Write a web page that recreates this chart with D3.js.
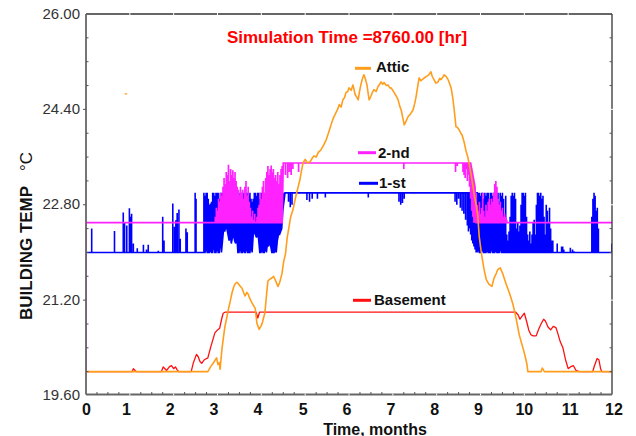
<!DOCTYPE html>
<html><head><meta charset="utf-8">
<script src="https://cdn.jsdelivr.net/npm/d3@7"></script>
<style>body{margin:0;background:#fff}svg{display:block}</style>
</head><body><svg id="c" width="636" height="436"></svg>
<script>
// ---------------- DATA ----------------
const monthTicks = [0,1,2,3,4,5,6,7,8,9,10,11,12];
const tempTicks = [19.6, 21.2, 22.8, 24.4, 26.0];
const tempTickLabels = ["19.60","21.20","22.80","24.40","26.00"];
const titleText = "Simulation Time =8760.00 [hr]";
const xLabel = "Time, months";
const yLabel = "BUILDING TEMP";
const yUnit = "°C";
const seriesNames = ["Attic", "2-nd", "1-st", "Basement"];

// Attic [month, temp]
const attic = [[0,20],[2.78,20],[2.84,20.08],[2.9,20.14],[2.95,20.2],[2.98,20.23],[3.01,20.12],[3.04,20.15],[3.06,20.04],[3.1,20.37],[3.14,20.6],[3.17,20.76],[3.21,20.9],[3.25,21.05],[3.29,21.18],[3.33,21.32],[3.37,21.42],[3.4,21.47],[3.44,21.5],[3.47,21.48],[3.51,21.44],[3.56,21.4],[3.6,21.32],[3.63,21.27],[3.67,21.33],[3.7,21.3],[3.74,21.22],[3.79,21.15],[3.83,21.1],[3.86,21.06],[3.9,20.81],[3.95,20.71],[3.99,20.76],[4.02,20.81],[4.05,20.9],[4.08,20.98],[4.12,21.3],[4.15,21.52],[4.19,21.55],[4.24,21.57],[4.28,21.6],[4.31,21.55],[4.35,21.48],[4.38,21.43],[4.42,21.5],[4.47,21.64],[4.51,21.85],[4.55,21.97],[4.59,22.25],[4.63,22.42],[4.67,22.6],[4.72,22.71],[4.76,22.85],[4.79,22.95],[4.84,23.1],[4.88,23.22],[4.92,23.38],[4.95,23.5],[5.0,23.56],[5.05,23.5],[5.11,23.52],[5.16,23.58],[5.2,23.62],[5.25,23.6],[5.3,23.68],[5.36,23.72],[5.42,23.8],[5.48,23.89],[5.53,24.0],[5.59,24.14],[5.64,24.25],[5.7,24.34],[5.74,24.4],[5.78,24.48],[5.82,24.44],[5.86,24.56],[5.9,24.6],[5.93,24.68],[5.97,24.7],[6.0,24.76],[6.05,24.72],[6.09,24.81],[6.12,24.72],[6.14,24.65],[6.18,24.6],[6.21,24.56],[6.24,24.7],[6.27,24.81],[6.3,24.9],[6.34,24.98],[6.37,24.92],[6.41,24.81],[6.44,24.65],[6.46,24.56],[6.5,24.62],[6.53,24.68],[6.57,24.73],[6.62,24.7],[6.66,24.78],[6.7,24.82],[6.73,24.86],[6.77,24.82],[6.8,24.85],[6.85,24.8],[6.89,24.81],[6.93,24.76],[6.96,24.76],[7.0,24.72],[7.03,24.68],[7.08,24.62],[7.12,24.56],[7.16,24.45],[7.19,24.39],[7.23,24.25],[7.26,24.14],[7.3,24.2],[7.35,24.28],[7.4,24.32],[7.46,24.39],[7.5,24.5],[7.53,24.61],[7.57,24.8],[7.6,24.93],[7.64,24.88],[7.67,24.9],[7.72,24.93],[7.76,24.95],[7.82,24.98],[7.87,25.03],[7.9,24.95],[7.94,24.9],[7.98,24.84],[8.03,24.86],[8.07,24.92],[8.1,24.9],[8.14,24.94],[8.17,24.98],[8.22,24.95],[8.26,24.9],[8.3,24.82],[8.33,24.76],[8.37,24.58],[8.4,24.39],[8.44,24.11],[8.47,24.1],[8.51,24.06],[8.55,24.0],[8.58,23.97],[8.63,23.84],[8.67,23.7],[8.71,23.6],[8.75,23.45],[8.78,23.33],[8.82,23.15],[8.85,23.0],[8.9,22.8],[8.94,22.6],[8.97,22.27],[9.0,22.1],[9.03,21.94],[9.08,21.72],[9.13,21.55],[9.19,21.47],[9.26,21.43],[9.31,21.57],[9.36,21.65],[9.4,21.72],[9.45,21.74],[9.51,21.64],[9.58,21.48],[9.66,21.32],[9.74,21.13],[9.81,20.9],[9.85,20.75],[9.88,20.63],[9.94,20.47],[9.99,20.34],[10.03,20.22],[10.06,20.12],[10.08,20],[10.38,20],[10.41,20.06],[10.44,20.02],[10.46,20],[12,20]];
const atticStray = [[0.88,24.66],[0.94,24.66]];

// Basement [month, temp]
const basement = [[0,20],[1.05,20],[1.08,20.05],[1.12,20.02],[1.15,20],[1.72,20],[1.76,20.08],[1.8,20.05],[1.84,20.02],[1.9,20.08],[1.95,20.1],[2.0,20.05],[2.04,20.08],[2.08,20.03],[2.12,20],[2.4,20],[2.45,20.15],[2.52,20.29],[2.56,20.25],[2.6,20.17],[2.64,20.14],[2.7,20.2],[2.78,20.23],[2.84,20.4],[2.9,20.55],[2.94,20.65],[3.0,20.7],[3.05,20.73],[3.1,20.9],[3.13,20.98],[3.18,21.0],[3.88,21.0],[3.92,20.9],[3.96,21.0],[9.8,21.0],[9.86,20.95],[9.9,20.88],[9.95,20.93],[10.0,20.98],[10.05,20.85],[10.1,20.7],[10.15,20.62],[10.2,20.6],[10.27,20.6],[10.32,20.7],[10.38,20.8],[10.44,20.88],[10.48,20.85],[10.54,20.75],[10.6,20.7],[10.66,20.76],[10.72,20.74],[10.76,20.65],[10.82,20.5],[10.88,20.4],[10.94,20.2],[11.0,20.05],[11.05,20.08],[11.12,20.1],[11.18,20.02],[11.25,20],[11.56,20],[11.6,20.1],[11.66,20.22],[11.7,20.2],[11.74,20.05],[11.77,20],[12,20]];

// 1-st floor [month, base temp, spike temp]
const firstFloor = [[0,22,22],[0.13,22,22.4],[0.65,22,22.36],[0.85,22,22.67],[0.88,22,22.5],[0.93,22,22.45],[0.99,22,22.74],[1.02,22,22.6],[1.04,22,22.65],[1.08,22,22.15],[1.17,22,22.07],[1.31,22,22.13],[1.38,22,22.05],[1.42,22,22.13],[1.65,22,22.03],[1.75,22,22.6],[1.78,22,22.2],[1.98,22,22.82],[2.02,22,22.43],[2.05,22,22.54],[2.08,22,22.66],[2.12,22,22.72],[2.15,22,22.23],[2.28,22,22.4],[2.31,22,22.34],[2.49,22,23],[2.51,22,22.9],
[2.69,22,23],[2.715,22,22.95],[2.74,22.1,23],[2.765,22,23],[2.79,22,22.9],[2.815,22,22.8],[2.84,22.05,22.82],[2.865,22,22.85],[2.89,22,23],[2.915,22.2,23],[2.94,22,22.95],[2.965,22,23],[2.99,22.1,23],[3.015,22,23],[3.04,22,22.9],[3.065,22.3,23],[3.09,22,23],[3.115,22.2,23],[3.14,22.4,23],[3.165,22.35,22.95],[3.19,22.45,22.85],[3.215,22.4,22.82],[3.24,22.3,22.8],[3.265,22.2,22.85],[3.29,22.3,23],[3.315,22.15,23],[3.34,22.25,22.95],[3.365,22.3,23],[3.39,22.2,23],[3.415,22.15,22.95],[3.44,22.3,23],[3.465,22,23],[3.49,22,22.9],[3.515,22.1,23],[3.54,22,23],[3.565,22,22.95],[3.59,22.05,23],[3.615,22,23],[3.64,22,22.9],[3.665,22.1,23],[3.69,22,23],[3.715,22,22.95],[3.74,22,23],[3.765,22.15,22.9],[3.79,22,22.85],[3.815,22.3,22.9],[3.84,22.35,23],[3.865,22.3,23],[3.89,22.25,22.95],[3.915,22.4,23],[3.94,22.2,23],[3.965,22,22.9],[3.99,22,23],[4.015,22.05,23],[4.04,22,22.95],[4.065,22,23],[4.09,22.1,23],[4.115,22,23],[4.14,22.15,22.9],[4.165,22.1,23],[4.19,22.2,23],[4.215,22.1,22.95],[4.24,22,23],[4.265,22,22.9],[4.29,22,22.95],[4.315,22.05,23],[4.34,22,22.85],[4.365,22.2,22.9],[4.39,22.3,22.8],[4.415,22.3,22.9],[4.44,22.35,23],[4.465,22.4,22.95],[4.49,22.7,23],[4.515,22.85,23],
[4.54,23,23],[4.62,23,22.85],[4.66,23,22.76],[4.7,23,22.8],[4.74,23,23],[5.04,23,22.88],[5.1,23,22.85],[5.16,23,22.9],[5.22,23,23],[5.28,23,22.9],[5.3,23,23],[5.46,23,22.92],[5.48,23,23],[6.44,23,22.92],[6.46,23,23],[7.14,23,22.85],[7.18,23,22.8],[7.22,23,22.83],[7.26,23,22.9],[7.3,23,23],[8.4,23,23],[8.42,23,22.85],[8.46,23,22.8],[8.5,23,22.9],[8.54,23,22.75],[8.58,23,22.7],[8.62,23,22.65],[8.66,23,22.55],[8.7,23,22.45],[8.725,23,22.35],[8.75,23,22.4],[8.775,23,22.3],[8.8,23,22.2],[8.825,23,22.15],[8.85,23,22.1],[8.875,23,22.05],[8.9,23,22],[8.925,23,22],
[8.95,22.05,23],[8.975,22,23],[9.0,22,22.95],[9.025,22,23],[9.05,22.1,23],[9.075,22,22.9],[9.1,22,23],[9.125,22,22.95],[9.15,22.05,23],[9.175,22,23],[9.2,22,22.9],[9.225,22,23],[9.25,22.1,23],[9.275,22,22.95],[9.3,22,23],[9.325,22,23],[9.35,22.05,22.9],[9.375,22,23],[9.4,22,23],[9.425,22,22.85],[9.45,22.1,23],[9.475,22,22.95],[9.5,22,23],[9.525,22,22.9],[9.55,22,22.6],[9.575,22,22.95],[9.6,22,22.3],[9.625,22,22.2],[9.65,22,22.35],[9.675,22,22.6],[9.7,22,22.95],[9.725,22,23],[9.75,22,22.95],[9.775,22,23],[9.8,22,22.9],[9.825,22,22.4],[9.85,22,22.5],[9.875,22,22.35],[9.9,22,22.45],[9.925,22,22.8],[9.95,22,23],[9.975,22,23],[10.0,22,22.95],[10.025,22,23],[10.05,22,22.6],[10.075,22,22.3],[10.1,22,22.2],[10.125,22,22.35],[10.15,22,22.15],[10.175,22,22.3],[10.2,22,22.5],[10.225,22,22.55],[10.25,22,22.3],[10.275,22,22.8],[10.3,22,23],[10.325,22,23],[10.35,22,22.95],[10.375,22,23],[10.4,22,22.9],[10.425,22,22.95],[10.45,22,22.6],[10.475,22,22.3],[10.5,22,22.8],[10.525,22,22.7],[10.55,22,22.5],[10.575,22,22.75],[10.6,22,22.4],[10.625,22,22.2],[10.65,22,22.2],[10.675,22,22],[10.75,22,22.15],[10.775,22,22],[10.85,22,22.1],[10.875,22,22.1],[10.9,22,22.05],[10.925,22,22],[11.05,22,22.08],[11.1,22,22.05],[11.13,22,22.02],[11.2,22,22],[11.54,22,22.6],[11.565,22,22.9],[11.59,22,23],[11.615,22,22.95],[11.64,22,22.7],[11.665,22,22.75],[11.69,22,22.4],[11.72,22,22],[11.98,22,22],[12,22,22.15]];

// 2-nd floor [month, base temp, spike temp]
const secondFloor = [[0,20,20],[0,22.5,22.5],[2.93,22.5,22.5],
[2.95,22.5,22.6],[2.975,22.5,22.75],[3.0,22.5,22.7],[3.025,22.5,22.9],[3.05,22.5,22.85],[3.075,22.5,23.0],[3.1,22.5,22.95],[3.125,22.5,23.1],[3.15,22.5,23.25],[3.175,22.5,23.15],[3.2,22.5,23.35],[3.225,22.5,23.3],[3.25,22.5,23.47],[3.275,22.5,23.2],[3.3,22.5,23.4],[3.325,22.5,23.3],[3.35,22.5,23.38],[3.375,22.5,23.25],[3.4,22.5,23.35],[3.425,22.5,23.2],[3.45,22.5,23.1],[3.475,22.5,23.05],[3.5,22.5,22.95],[3.525,22.5,23.1],[3.55,22.5,23.0],[3.575,22.5,23.05],[3.6,22.5,22.9],[3.625,22.5,23.1],[3.65,22.5,23.2],[3.675,22.5,22.95],[3.7,22.5,23.1],[3.725,22.5,22.85],[3.75,22.5,22.75],[3.775,22.5,22.6],[3.8,22.5,22.7],[3.825,22.5,22.55],[3.85,22.5,22.65],[3.875,22.5,22.5],[3.9,22.5,22.6],[3.925,22.5,22.75],[3.95,22.5,22.8],[3.975,22.5,23.0],[4.0,22.5,22.9],[4.025,22.5,23.1],[4.05,22.5,23.2],[4.075,22.5,23.0],[4.1,22.5,23.25],[4.125,22.5,23.35],[4.15,22.5,23.45],[4.175,22.5,23.3],[4.2,22.5,23.4],[4.225,22.5,23.46],[4.25,22.5,23.35],[4.275,22.5,23.4],[4.3,22.5,23.25],[4.325,22.5,23.3],[4.35,22.5,23.2],[4.375,22.5,23.35],[4.4,22.5,23.15],[4.425,22.5,23.3],[4.45,22.5,23.4],[4.475,22.5,23.45],
[4.5,23.5,23.5],[4.55,23.5,23.3],[4.6,23.5,23.25],[4.64,23.5,23.35],[4.68,23.5,23.3],[4.72,23.5,23.4],[4.76,23.5,23.5],[4.85,23.5,23.35],[4.9,23.5,23.5],[7.25,23.5,23.4],[7.28,23.5,23.5],[8.4,23.5,23.5],[8.43,23.5,23.35],[8.47,23.5,23.45],[8.5,23.5,23.5],[8.6,23.5,23.35],[8.625,23.5,23.3],[8.65,23.5,23.25],[8.675,23.5,23.4],[8.7,23.5,23.2],[8.725,23.5,23.3],[8.75,23.5,23.1],[8.775,23.5,22.9],[8.8,23.4,22.7],[8.825,23.3,22.6],[8.85,23.2,22.5],[8.875,23.1,22.5],
[8.9,22.5,23.0],[8.925,22.5,22.8],[8.95,22.5,22.7],[8.975,22.5,22.85],[9.0,22.5,22.65],[9.025,22.5,22.75],[9.05,22.5,23.0],[9.075,22.5,22.7],[9.1,22.5,22.6],[9.125,22.5,22.8],[9.15,22.5,22.7],[9.175,22.5,22.85],[9.2,22.5,22.9],[9.225,22.5,22.8],[9.25,22.5,22.9],[9.275,22.5,22.85],[9.3,22.5,23.0],[9.325,22.5,23.15],[9.35,22.5,23.2],[9.375,22.5,23.1],[9.4,22.5,22.9],[9.425,22.5,22.8],[9.45,22.5,22.85],[9.475,22.5,22.7],[9.5,22.5,22.75],[9.525,22.5,22.6],[9.55,22.5,22.65],[9.575,22.5,22.6],[9.6,22.5,22.55],[9.625,22.5,22.5],[12,22.5,22.5]];

// ---------------- LAYOUT / STYLE ----------------
const L = 86, R = 612, T = 14, B = 394.5;
const colors = {attic:"#ff9d1c", second:"#ff22ff", first:"#0000ff", basement:"#ff1010"};
const legendLayout = [
  {key:"attic",    x1:355, x2:371, ly:68.3,  tx:376, ty:72},
  {key:"second",   x1:358, x2:376, ly:152.7, tx:378, ty:157.5},
  {key:"first",    x1:359, x2:378, ly:183.3, tx:379, ty:188.3},
  {key:"basement", x1:353, x2:371, ly:300.3, tx:374, ty:305.3}
];

const svg = d3.select("#c");
const x = d3.scaleLinear().domain([0,12]).range([L,R]);
const y = d3.scaleLinear().domain([19.6,26]).range([395.5,T]);

svg.append("defs").append("clipPath").attr("id","clip")
  .append("rect").attr("x",L).attr("y",T).attr("width",R-L).attr("height",B-T);

const line = d3.line().x(d=>x(d[0])).y(d=>y(d[1]));
function spikes(arr){
  const pts=[];
  arr.forEach(([m,b,p])=>{pts.push([m,b],[m,p],[m,b]);});
  return pts;
}

const plot = svg.append("g").attr("clip-path","url(#clip)");
plot.append("path").attr("d",line(spikes(firstFloor))).attr("fill","none")
  .attr("stroke",colors.first).attr("stroke-width",1.6);
plot.append("path").attr("d",line(spikes(secondFloor))).attr("fill","none")
  .attr("stroke",colors.second).attr("stroke-width",1.7);
plot.append("path").attr("d",line(basement)).attr("fill","none")
  .attr("stroke",colors.basement).attr("stroke-width",1.3).attr("stroke-linejoin","round");
plot.append("path").attr("d",line(attic)).attr("fill","none")
  .attr("stroke",colors.attic).attr("stroke-width",1.6).attr("stroke-linejoin","round");
plot.append("path").attr("d",line(atticStray)).attr("fill","none")
  .attr("stroke",colors.attic).attr("stroke-width",1.2);

// frame
const frame = svg.append("g");
frame.append("line").attr("x1",L).attr("x2",R).attr("y1",T).attr("y2",T).attr("stroke","#333").attr("stroke-width",1.3);
frame.append("line").attr("x1",R).attr("x2",R).attr("y1",T).attr("y2",B).attr("stroke","#333").attr("stroke-width",1.3);
frame.append("line").attr("x1",L).attr("x2",R).attr("y1",B).attr("y2",B).attr("stroke","#666").attr("stroke-width",1.8);
frame.append("line").attr("x1",L).attr("x2",L).attr("y1",T).attr("y2",B).attr("stroke","#666").attr("stroke-width",1.8);

// minor ticks
const xMinor = d3.range(0,48).map(i=>i/4).filter(v=>v%1!==0);
const yMinor = d3.range(1,16).map(i=>19.6+i*0.4).filter((v,i)=>(i+1)%4!==0);
frame.selectAll(".xm").data(xMinor).enter().append("line")
  .attr("x1",d=>x(d)).attr("x2",d=>x(d)).attr("y1",B).attr("y2",B-2.5).attr("stroke","#555").attr("stroke-width",1);
frame.selectAll(".ylm").data(yMinor).enter().append("line")
  .attr("x1",L).attr("x2",L+2.5).attr("y1",d=>y(d)).attr("y2",d=>y(d)).attr("stroke","#555").attr("stroke-width",1);
frame.selectAll(".yrm").data(yMinor).enter().append("line")
  .attr("x1",R).attr("x2",R-2.5).attr("y1",d=>y(d)).attr("y2",d=>y(d)).attr("stroke","#555").attr("stroke-width",1);
// major notches
frame.selectAll(".xt").data(monthTicks.slice(1,-1)).enter().append("line")
  .attr("x1",d=>x(d)).attr("x2",d=>x(d)).attr("y1",T-1).attr("y2",T+1).attr("stroke","#fff").attr("stroke-width",1);
frame.selectAll(".xb").data(monthTicks.slice(1,-1)).enter().append("line")
  .attr("x1",d=>x(d)).attr("x2",d=>x(d)).attr("y1",B-1).attr("y2",B+1).attr("stroke","#fff").attr("stroke-width",1);
frame.selectAll(".yr").data(tempTicks.slice(1,-1)).enter().append("line")
  .attr("x1",R-1).attr("x2",R+1).attr("y1",d=>y(d)).attr("y2",d=>y(d)).attr("stroke","#fff").attr("stroke-width",1);
frame.selectAll(".yl").data(tempTicks.slice(1,-1)).enter().append("line")
  .attr("x1",L-3).attr("x2",L).attr("y1",d=>y(d)).attr("y2",d=>y(d)).attr("stroke","#555").attr("stroke-width",1);

// tick labels
const font = "'Liberation Sans', Arial, sans-serif";
svg.selectAll(".ytl").data(tempTicks).enter().append("text")
  .attr("x",80).attr("y",d=>y(d)+4.5).attr("text-anchor","end")
  .attr("font-family",font).attr("font-size",15).attr("fill","#333")
  .text((d,i)=>tempTickLabels[i]);
const xLabelShift = m => m===0 ? 0.5 : m<5 ? -3.5 : m<10 ? -2 : m===10 ? 0 : 2;
svg.selectAll(".xtl").data(monthTicks).enter().append("text")
  .attr("x",d=>x(d)+xLabelShift(d)).attr("y",415).attr("text-anchor","middle")
  .attr("font-family",font).attr("font-size",16).attr("font-weight","bold").attr("fill","#111")
  .text(d=>d);

// axis labels
svg.append("text").attr("x",375).attr("y",434.5).attr("text-anchor","middle")
  .attr("font-family",font).attr("font-size",16).attr("font-weight","bold").attr("fill","#111").text(xLabel);
svg.append("text").attr("transform","translate(32,320) rotate(-90)").attr("text-anchor","start")
  .attr("font-family",font).attr("font-size",17).attr("font-weight","bold").attr("fill","#111").text(yLabel);
svg.append("text").attr("transform","translate(32,171) rotate(-90)").attr("text-anchor","start")
  .attr("font-family",font).attr("font-size",17).attr("fill","#111").text(yUnit);

// title
svg.append("text").attr("x",347).attr("y",42.5).attr("text-anchor","middle")
  .attr("font-family",font).attr("font-size",17).attr("font-weight","bold").attr("fill","#ff0000").text(titleText);

// legend
const keyToName = {attic:seriesNames[0], second:seriesNames[1], first:seriesNames[2], basement:seriesNames[3]};
legendLayout.forEach(l=>{
  svg.append("line").attr("x1",l.x1).attr("x2",l.x2).attr("y1",l.ly).attr("y2",l.ly)
    .attr("stroke",colors[l.key]).attr("stroke-width",3);
  svg.append("text").attr("x",l.tx).attr("y",l.ty).attr("font-family",font).attr("font-size",15)
    .attr("font-weight","bold").attr("fill","#111").text(keyToName[l.key]);
});
</script></body></html>
